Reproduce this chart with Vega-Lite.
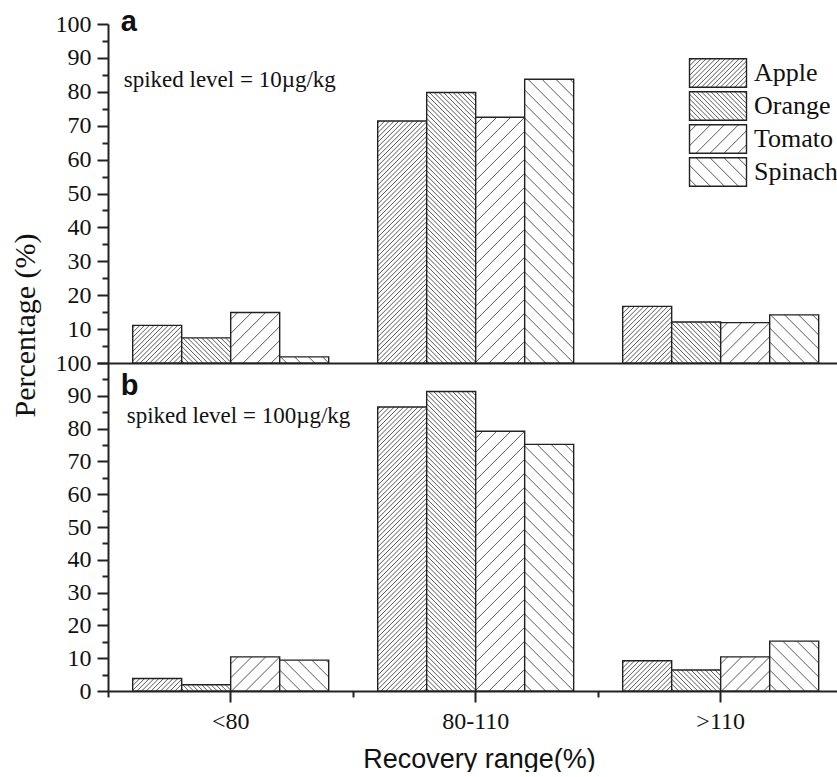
{
  "$schema": "https://vega.github.io/schema/vega-lite/v6.json",
  "padding": {"left": 10, "top": 7, "right": 0, "bottom": 0},
  "spacing": 0,
  "bounds": "flush",
  "config": {
    "view": {"stroke": null},
    "axis": {"domainColor": "#222", "domainWidth": 2, "tickColor": "#222", "tickWidth": 2, "labelFont": "Liberation Serif", "labelFontSize": 24, "labelColor": "#111", "grid": false}
  },
  "params": [
    {"name": "denseStops", "value": [
{"offset":0.00365,"color":"#fff"},{"offset":0.00625,"color":"#555"},{"offset":0.00885,"color":"#fff"},{"offset":0.01615,"color":"#fff"},{"offset":0.01875,"color":"#555"},{"offset":0.02135,"color":"#fff"},{"offset":0.02865,"color":"#fff"},{"offset":0.03125,"color":"#555"},{"offset":0.03385,"color":"#fff"},{"offset":0.04115,"color":"#fff"},{"offset":0.04375,"color":"#555"},{"offset":0.04635,"color":"#fff"},{"offset":0.05365,"color":"#fff"},{"offset":0.05625,"color":"#555"},{"offset":0.05885,"color":"#fff"},{"offset":0.06615,"color":"#fff"},{"offset":0.06875,"color":"#555"},{"offset":0.07135,"color":"#fff"},{"offset":0.07865,"color":"#fff"},{"offset":0.08125,"color":"#555"},{"offset":0.08385,"color":"#fff"},{"offset":0.09115,"color":"#fff"},{"offset":0.09375,"color":"#555"},{"offset":0.09635,"color":"#fff"},
{"offset":0.10365,"color":"#fff"},{"offset":0.10625,"color":"#555"},{"offset":0.10885,"color":"#fff"},{"offset":0.11615,"color":"#fff"},{"offset":0.11875,"color":"#555"},{"offset":0.12135,"color":"#fff"},{"offset":0.12865,"color":"#fff"},{"offset":0.13125,"color":"#555"},{"offset":0.13385,"color":"#fff"},{"offset":0.14115,"color":"#fff"},{"offset":0.14375,"color":"#555"},{"offset":0.14635,"color":"#fff"},{"offset":0.15365,"color":"#fff"},{"offset":0.15625,"color":"#555"},{"offset":0.15885,"color":"#fff"},{"offset":0.16615,"color":"#fff"},{"offset":0.16875,"color":"#555"},{"offset":0.17135,"color":"#fff"},{"offset":0.17865,"color":"#fff"},{"offset":0.18125,"color":"#555"},{"offset":0.18385,"color":"#fff"},{"offset":0.19115,"color":"#fff"},{"offset":0.19375,"color":"#555"},{"offset":0.19635,"color":"#fff"},
{"offset":0.20365,"color":"#fff"},{"offset":0.20625,"color":"#555"},{"offset":0.20885,"color":"#fff"},{"offset":0.21615,"color":"#fff"},{"offset":0.21875,"color":"#555"},{"offset":0.22135,"color":"#fff"},{"offset":0.22865,"color":"#fff"},{"offset":0.23125,"color":"#555"},{"offset":0.23385,"color":"#fff"},{"offset":0.24115,"color":"#fff"},{"offset":0.24375,"color":"#555"},{"offset":0.24635,"color":"#fff"},{"offset":0.25365,"color":"#fff"},{"offset":0.25625,"color":"#555"},{"offset":0.25885,"color":"#fff"},{"offset":0.26615,"color":"#fff"},{"offset":0.26875,"color":"#555"},{"offset":0.27135,"color":"#fff"},{"offset":0.27865,"color":"#fff"},{"offset":0.28125,"color":"#555"},{"offset":0.28385,"color":"#fff"},{"offset":0.29115,"color":"#fff"},{"offset":0.29375,"color":"#555"},{"offset":0.29635,"color":"#fff"},
{"offset":0.30365,"color":"#fff"},{"offset":0.30625,"color":"#555"},{"offset":0.30885,"color":"#fff"},{"offset":0.31615,"color":"#fff"},{"offset":0.31875,"color":"#555"},{"offset":0.32135,"color":"#fff"},{"offset":0.32865,"color":"#fff"},{"offset":0.33125,"color":"#555"},{"offset":0.33385,"color":"#fff"},{"offset":0.34115,"color":"#fff"},{"offset":0.34375,"color":"#555"},{"offset":0.34635,"color":"#fff"},{"offset":0.35365,"color":"#fff"},{"offset":0.35625,"color":"#555"},{"offset":0.35885,"color":"#fff"},{"offset":0.36615,"color":"#fff"},{"offset":0.36875,"color":"#555"},{"offset":0.37135,"color":"#fff"},{"offset":0.37865,"color":"#fff"},{"offset":0.38125,"color":"#555"},{"offset":0.38385,"color":"#fff"},{"offset":0.39115,"color":"#fff"},{"offset":0.39375,"color":"#555"},{"offset":0.39635,"color":"#fff"},
{"offset":0.40365,"color":"#fff"},{"offset":0.40625,"color":"#555"},{"offset":0.40885,"color":"#fff"},{"offset":0.41615,"color":"#fff"},{"offset":0.41875,"color":"#555"},{"offset":0.42135,"color":"#fff"},{"offset":0.42865,"color":"#fff"},{"offset":0.43125,"color":"#555"},{"offset":0.43385,"color":"#fff"},{"offset":0.44115,"color":"#fff"},{"offset":0.44375,"color":"#555"},{"offset":0.44635,"color":"#fff"},{"offset":0.45365,"color":"#fff"},{"offset":0.45625,"color":"#555"},{"offset":0.45885,"color":"#fff"},{"offset":0.46615,"color":"#fff"},{"offset":0.46875,"color":"#555"},{"offset":0.47135,"color":"#fff"},{"offset":0.47865,"color":"#fff"},{"offset":0.48125,"color":"#555"},{"offset":0.48385,"color":"#fff"},{"offset":0.49115,"color":"#fff"},{"offset":0.49375,"color":"#555"},{"offset":0.49635,"color":"#fff"},
{"offset":0.50365,"color":"#fff"},{"offset":0.50625,"color":"#555"},{"offset":0.50885,"color":"#fff"},{"offset":0.51615,"color":"#fff"},{"offset":0.51875,"color":"#555"},{"offset":0.52135,"color":"#fff"},{"offset":0.52865,"color":"#fff"},{"offset":0.53125,"color":"#555"},{"offset":0.53385,"color":"#fff"},{"offset":0.54115,"color":"#fff"},{"offset":0.54375,"color":"#555"},{"offset":0.54635,"color":"#fff"},{"offset":0.55365,"color":"#fff"},{"offset":0.55625,"color":"#555"},{"offset":0.55885,"color":"#fff"},{"offset":0.56615,"color":"#fff"},{"offset":0.56875,"color":"#555"},{"offset":0.57135,"color":"#fff"},{"offset":0.57865,"color":"#fff"},{"offset":0.58125,"color":"#555"},{"offset":0.58385,"color":"#fff"},{"offset":0.59115,"color":"#fff"},{"offset":0.59375,"color":"#555"},{"offset":0.59635,"color":"#fff"},
{"offset":0.60365,"color":"#fff"},{"offset":0.60625,"color":"#555"},{"offset":0.60885,"color":"#fff"},{"offset":0.61615,"color":"#fff"},{"offset":0.61875,"color":"#555"},{"offset":0.62135,"color":"#fff"},{"offset":0.62865,"color":"#fff"},{"offset":0.63125,"color":"#555"},{"offset":0.63385,"color":"#fff"},{"offset":0.64115,"color":"#fff"},{"offset":0.64375,"color":"#555"},{"offset":0.64635,"color":"#fff"},{"offset":0.65365,"color":"#fff"},{"offset":0.65625,"color":"#555"},{"offset":0.65885,"color":"#fff"},{"offset":0.66615,"color":"#fff"},{"offset":0.66875,"color":"#555"},{"offset":0.67135,"color":"#fff"},{"offset":0.67865,"color":"#fff"},{"offset":0.68125,"color":"#555"},{"offset":0.68385,"color":"#fff"},{"offset":0.69115,"color":"#fff"},{"offset":0.69375,"color":"#555"},{"offset":0.69635,"color":"#fff"},
{"offset":0.70365,"color":"#fff"},{"offset":0.70625,"color":"#555"},{"offset":0.70885,"color":"#fff"},{"offset":0.71615,"color":"#fff"},{"offset":0.71875,"color":"#555"},{"offset":0.72135,"color":"#fff"},{"offset":0.72865,"color":"#fff"},{"offset":0.73125,"color":"#555"},{"offset":0.73385,"color":"#fff"},{"offset":0.74115,"color":"#fff"},{"offset":0.74375,"color":"#555"},{"offset":0.74635,"color":"#fff"},{"offset":0.75365,"color":"#fff"},{"offset":0.75625,"color":"#555"},{"offset":0.75885,"color":"#fff"},{"offset":0.76615,"color":"#fff"},{"offset":0.76875,"color":"#555"},{"offset":0.77135,"color":"#fff"},{"offset":0.77865,"color":"#fff"},{"offset":0.78125,"color":"#555"},{"offset":0.78385,"color":"#fff"},{"offset":0.79115,"color":"#fff"},{"offset":0.79375,"color":"#555"},{"offset":0.79635,"color":"#fff"},
{"offset":0.80365,"color":"#fff"},{"offset":0.80625,"color":"#555"},{"offset":0.80885,"color":"#fff"},{"offset":0.81615,"color":"#fff"},{"offset":0.81875,"color":"#555"},{"offset":0.82135,"color":"#fff"},{"offset":0.82865,"color":"#fff"},{"offset":0.83125,"color":"#555"},{"offset":0.83385,"color":"#fff"},{"offset":0.84115,"color":"#fff"},{"offset":0.84375,"color":"#555"},{"offset":0.84635,"color":"#fff"},{"offset":0.85365,"color":"#fff"},{"offset":0.85625,"color":"#555"},{"offset":0.85885,"color":"#fff"},{"offset":0.86615,"color":"#fff"},{"offset":0.86875,"color":"#555"},{"offset":0.87135,"color":"#fff"},{"offset":0.87865,"color":"#fff"},{"offset":0.88125,"color":"#555"},{"offset":0.88385,"color":"#fff"},{"offset":0.89115,"color":"#fff"},{"offset":0.89375,"color":"#555"},{"offset":0.89635,"color":"#fff"},
{"offset":0.90365,"color":"#fff"},{"offset":0.90625,"color":"#555"},{"offset":0.90885,"color":"#fff"},{"offset":0.91615,"color":"#fff"},{"offset":0.91875,"color":"#555"},{"offset":0.92135,"color":"#fff"},{"offset":0.92865,"color":"#fff"},{"offset":0.93125,"color":"#555"},{"offset":0.93385,"color":"#fff"},{"offset":0.94115,"color":"#fff"},{"offset":0.94375,"color":"#555"},{"offset":0.94635,"color":"#fff"},{"offset":0.95365,"color":"#fff"},{"offset":0.95625,"color":"#555"},{"offset":0.95885,"color":"#fff"},{"offset":0.96615,"color":"#fff"},{"offset":0.96875,"color":"#555"},{"offset":0.97135,"color":"#fff"},{"offset":0.97865,"color":"#fff"},{"offset":0.98125,"color":"#555"},{"offset":0.98385,"color":"#fff"},{"offset":0.99115,"color":"#fff"},{"offset":0.99375,"color":"#555"},{"offset":0.99635,"color":"#fff"}
    ]},
    {"name": "sparseStops", "value": [
{"offset":0.0134,"color":"#fff"},{"offset":0.01563,"color":"#555"},{"offset":0.01786,"color":"#fff"},
{"offset":0.04465,"color":"#fff"},{"offset":0.04688,"color":"#555"},{"offset":0.04911,"color":"#fff"},
{"offset":0.0759,"color":"#fff"},{"offset":0.07813,"color":"#555"},{"offset":0.08036,"color":"#fff"},
{"offset":0.10715,"color":"#fff"},{"offset":0.10938,"color":"#555"},{"offset":0.11161,"color":"#fff"},
{"offset":0.1384,"color":"#fff"},{"offset":0.14063,"color":"#555"},{"offset":0.14286,"color":"#fff"},
{"offset":0.16965,"color":"#fff"},{"offset":0.17188,"color":"#555"},{"offset":0.17411,"color":"#fff"},
{"offset":0.2009,"color":"#fff"},{"offset":0.20313,"color":"#555"},{"offset":0.20536,"color":"#fff"},
{"offset":0.23215,"color":"#fff"},{"offset":0.23438,"color":"#555"},{"offset":0.23661,"color":"#fff"},
{"offset":0.2634,"color":"#fff"},{"offset":0.26563,"color":"#555"},{"offset":0.26786,"color":"#fff"},
{"offset":0.29465,"color":"#fff"},{"offset":0.29688,"color":"#555"},{"offset":0.29911,"color":"#fff"},
{"offset":0.3259,"color":"#fff"},{"offset":0.32813,"color":"#555"},{"offset":0.33036,"color":"#fff"},
{"offset":0.35715,"color":"#fff"},{"offset":0.35938,"color":"#555"},{"offset":0.36161,"color":"#fff"},
{"offset":0.3884,"color":"#fff"},{"offset":0.39063,"color":"#555"},{"offset":0.39286,"color":"#fff"},
{"offset":0.41965,"color":"#fff"},{"offset":0.42188,"color":"#555"},{"offset":0.42411,"color":"#fff"},
{"offset":0.4509,"color":"#fff"},{"offset":0.45313,"color":"#555"},{"offset":0.45536,"color":"#fff"},
{"offset":0.48215,"color":"#fff"},{"offset":0.48438,"color":"#555"},{"offset":0.48661,"color":"#fff"},
{"offset":0.5134,"color":"#fff"},{"offset":0.51563,"color":"#555"},{"offset":0.51786,"color":"#fff"},
{"offset":0.54465,"color":"#fff"},{"offset":0.54688,"color":"#555"},{"offset":0.54911,"color":"#fff"},
{"offset":0.5759,"color":"#fff"},{"offset":0.57813,"color":"#555"},{"offset":0.58036,"color":"#fff"},
{"offset":0.60715,"color":"#fff"},{"offset":0.60938,"color":"#555"},{"offset":0.61161,"color":"#fff"},
{"offset":0.6384,"color":"#fff"},{"offset":0.64063,"color":"#555"},{"offset":0.64286,"color":"#fff"},
{"offset":0.66965,"color":"#fff"},{"offset":0.67188,"color":"#555"},{"offset":0.67411,"color":"#fff"},
{"offset":0.7009,"color":"#fff"},{"offset":0.70313,"color":"#555"},{"offset":0.70536,"color":"#fff"},
{"offset":0.73215,"color":"#fff"},{"offset":0.73438,"color":"#555"},{"offset":0.73661,"color":"#fff"},
{"offset":0.7634,"color":"#fff"},{"offset":0.76563,"color":"#555"},{"offset":0.76786,"color":"#fff"},
{"offset":0.79465,"color":"#fff"},{"offset":0.79688,"color":"#555"},{"offset":0.79911,"color":"#fff"},
{"offset":0.8259,"color":"#fff"},{"offset":0.82813,"color":"#555"},{"offset":0.83036,"color":"#fff"},
{"offset":0.85715,"color":"#fff"},{"offset":0.85938,"color":"#555"},{"offset":0.86161,"color":"#fff"},
{"offset":0.8884,"color":"#fff"},{"offset":0.89063,"color":"#555"},{"offset":0.89286,"color":"#fff"},
{"offset":0.91965,"color":"#fff"},{"offset":0.92188,"color":"#555"},{"offset":0.92411,"color":"#fff"},
{"offset":0.9509,"color":"#fff"},{"offset":0.95313,"color":"#555"},{"offset":0.95536,"color":"#fff"},
{"offset":0.98215,"color":"#fff"},{"offset":0.98438,"color":"#555"},{"offset":0.98661,"color":"#fff"}
    ]}
  ],
  "datasets": {
    "top": [
      {"range": "<80", "fruit": "Apple", "value": 11.1},
      {"range": "<80", "fruit": "Orange", "value": 7.4},
      {"range": "<80", "fruit": "Tomato", "value": 14.9},
      {"range": "<80", "fruit": "Spinach", "value": 1.8},
      {"range": "80-110", "fruit": "Apple", "value": 71.4},
      {"range": "80-110", "fruit": "Orange", "value": 79.8},
      {"range": "80-110", "fruit": "Tomato", "value": 72.5},
      {"range": "80-110", "fruit": "Spinach", "value": 83.7},
      {"range": ">110", "fruit": "Apple", "value": 16.7},
      {"range": ">110", "fruit": "Orange", "value": 12.1},
      {"range": ">110", "fruit": "Tomato", "value": 11.9},
      {"range": ">110", "fruit": "Spinach", "value": 14.2}
    ],
    "bottom": [
      {"range": "<80", "fruit": "Apple", "value": 3.8},
      {"range": "<80", "fruit": "Orange", "value": 1.9},
      {"range": "<80", "fruit": "Tomato", "value": 10.4},
      {"range": "<80", "fruit": "Spinach", "value": 9.4},
      {"range": "80-110", "fruit": "Apple", "value": 86.6},
      {"range": "80-110", "fruit": "Orange", "value": 91.3},
      {"range": "80-110", "fruit": "Tomato", "value": 79.2},
      {"range": "80-110", "fruit": "Spinach", "value": 75.2},
      {"range": ">110", "fruit": "Apple", "value": 9.2},
      {"range": ">110", "fruit": "Orange", "value": 6.4},
      {"range": ">110", "fruit": "Tomato", "value": 10.4},
      {"range": ">110", "fruit": "Spinach", "value": 15.2}
    ],
    "notes": [
      {"panel": "a", "note": "spiked level = 10µg/kg", "panel2": "b", "note2": "spiked level = 100µg/kg"}
    ]
  },
  "resolve": {"scale": {"fill": "independent", "xOffset": "independent"}},
  "vconcat": [
    {
      "width": 729,
      "height": 339,
      "layer": [
        {
          "data": {"name": "top"},
          "mark": {"type": "bar", "stroke": "#222", "strokeWidth": 1.4,
            "fill": {"expr": "datum.fruit=='Apple'?{gradient:'linear',x1:0,y1:0,x2:18620/(2401+pow(3.39*datum.value,2)),y2:1288.2*datum.value/(2401+pow(3.39*datum.value,2)),stops:denseStops}:datum.fruit=='Orange'?{gradient:'linear',x1:0,y1:1,x2:18620/(2401+pow(3.39*datum.value,2)),y2:1-1288.2*datum.value/(2401+pow(3.39*datum.value,2)),stops:denseStops}:datum.fruit=='Tomato'?{gradient:'linear',x1:0,y1:0,x2:21952/(2401+pow(3.39*datum.value,2)),y2:1518.72*datum.value/(2401+pow(3.39*datum.value,2)),stops:sparseStops}:{gradient:'linear',x1:0,y1:1,x2:21952/(2401+pow(3.39*datum.value,2)),y2:1-1518.72*datum.value/(2401+pow(3.39*datum.value,2)),stops:sparseStops}"}},
          "encoding": {
            "x": {"field": "range", "type": "nominal", "sort": ["<80", "80-110", ">110"],
              "scale": {"paddingInner": 0.2, "paddingOuter": 0.0878, "align": 0.574},
              "axis": {"ticks": false, "labels": false, "title": null, "domain": true, "orient": "bottom"}},
            "xOffset": {"field": "fruit", "type": "nominal", "sort": ["Apple", "Orange", "Tomato", "Spinach"], "scale": {"paddingInner": 0, "paddingOuter": 0}},
            "y": {"field": "value", "type": "quantitative", "scale": {"domain": [0, 100], "nice": false},
              "axis": {"values": [0, 10, 20, 30, 40, 50, 60, 70, 80, 90, 100], "tickSize": 11, "labelPadding": 6,
                "labelExpr": "datum.value==0?'':datum.label",
                "title": "Percentage (%)", "titleFont": "Liberation Serif", "titleFontSize": 30, "titleFontWeight": "normal", "titleColor": "#111",
                "titleAngle": 270, "titleX": -74, "titleY": 301, "titleAlign": "center", "titleBaseline": "alphabetic", "orient": "left"}}
          }
        },
        {
          "data": {"name": "top"},
          "mark": {"type": "square", "filled": true, "opacity": 0},
          "encoding": {
            "fill": {"field": "fruit", "type": "nominal",
              "scale": {"domain": ["Apple", "Orange", "Tomato", "Spinach"],
                "range": [
                  {"expr": "{gradient:'linear',x1:0,y1:0,x2:5.333,y2:2.667,stops:denseStops}"},
                  {"expr": "{gradient:'linear',x1:0,y1:1,x2:5.333,y2:-1.667,stops:denseStops}"},
                  {"expr": "{gradient:'linear',x1:0,y1:0,x2:6.288,y2:3.144,stops:sparseStops}"},
                  {"expr": "{gradient:'linear',x1:0,y1:1,x2:6.288,y2:-2.144,stops:sparseStops}"}
                ]},
              "legend": {"orient": "none", "legendX": 595, "legendY": 34, "title": null, "padding": 0,
                "symbolType": "M-2,-1H2V1H-2Z", "symbolSize": 812, "symbolStrokeColor": "#222", "symbolStrokeWidth": 1.4, "symbolOpacity": 1,
                "labelFont": "Liberation Serif", "labelFontSize": 26, "labelColor": "#111", "labelOffset": 21, "rowPadding": -6.5, "labelLimit": 300,
                "encode": {"symbols": {"update": {"opacity": {"value": 1}}}}}}
          }
        },
        {
          "data": {"name": "notes"},
          "mark": {"type": "text", "font": "Liberation Serif", "fontSize": 23, "align": "left", "baseline": "alphabetic", "dx": -9, "color": "#111"},
          "encoding": {
            "x": {"datum": "<80", "type": "nominal", "bandPosition": 0, "axis": null},
            "y": {"datum": 81.4, "type": "quantitative",
              "axis": {"values": [5, 15, 25, 35, 45, 55, 65, 75, 85, 95], "tickSize": 6, "labels": false, "domain": false, "title": null, "orient": "left"}},
            "text": {"field": "note"}
          }
        },
        {
          "data": {"name": "notes"},
          "mark": {"type": "text", "font": "Liberation Sans", "fontWeight": "bold", "fontSize": 29, "align": "left", "baseline": "alphabetic", "dx": -12, "color": "#111"},
          "encoding": {
            "x": {"datum": "<80", "type": "nominal", "bandPosition": 0, "axis": null},
            "y": {"datum": 98, "type": "quantitative", "axis": null},
            "text": {"field": "panel"}
          }
        }
      ],
      "resolve": {"axis": {"y": "independent", "x": "independent"}}
    },
    {
      "width": 729,
      "height": 328,
      "layer": [
        {
          "data": {"name": "bottom"},
          "mark": {"type": "bar", "stroke": "#222", "strokeWidth": 1.4,
            "fill": {"expr": "datum.fruit=='Apple'?{gradient:'linear',x1:0,y1:0,x2:18620/(2401+pow(3.28*datum.value,2)),y2:1246.4*datum.value/(2401+pow(3.28*datum.value,2)),stops:denseStops}:datum.fruit=='Orange'?{gradient:'linear',x1:0,y1:1,x2:18620/(2401+pow(3.28*datum.value,2)),y2:1-1246.4*datum.value/(2401+pow(3.28*datum.value,2)),stops:denseStops}:datum.fruit=='Tomato'?{gradient:'linear',x1:0,y1:0,x2:21952/(2401+pow(3.28*datum.value,2)),y2:1469.44*datum.value/(2401+pow(3.28*datum.value,2)),stops:sparseStops}:{gradient:'linear',x1:0,y1:1,x2:21952/(2401+pow(3.28*datum.value,2)),y2:1-1469.44*datum.value/(2401+pow(3.28*datum.value,2)),stops:sparseStops}"}},
          "encoding": {
            "x": {"field": "range", "type": "nominal", "sort": ["<80", "80-110", ">110"],
              "scale": {"paddingInner": 0.2, "paddingOuter": 0.0878, "align": 0.574},
              "axis": {"tickSize": 11, "labelPadding": 26, "labelBaseline": "alphabetic", "labelAngle": 0, "labelFontSize": 24,
                "title": "Recovery range(%)", "titleFont": "Liberation Sans", "titleFontSize": 27, "titleFontWeight": "normal", "titleColor": "#111",
                "titleX": 371, "titleY": 76, "titleAlign": "center", "titleBaseline": "alphabetic", "orient": "bottom"}},
            "xOffset": {"field": "fruit", "type": "nominal", "sort": ["Apple", "Orange", "Tomato", "Spinach"], "scale": {"paddingInner": 0, "paddingOuter": 0}},
            "y": {"field": "value", "type": "quantitative", "scale": {"domain": [0, 100], "nice": false},
              "axis": {"values": [0, 10, 20, 30, 40, 50, 60, 70, 80, 90, 100], "tickSize": 11, "labelPadding": 6, "title": null, "orient": "left"}}
          }
        },
        {
          "data": {"name": "notes"},
          "mark": {"type": "text", "font": "Liberation Serif", "fontSize": 23, "align": "left", "baseline": "alphabetic", "dx": -6, "color": "#111"},
          "encoding": {
            "x": {"datum": "<80", "type": "nominal", "bandPosition": 0,
              "axis": {"bandPosition": -0.125, "tickSize": 6, "labels": false, "domain": false, "title": null, "orient": "bottom"}},
            "y": {"datum": 81.6, "type": "quantitative",
              "axis": {"values": [5, 15, 25, 35, 45, 55, 65, 75, 85, 95], "tickSize": 6, "labels": false, "domain": false, "title": null, "orient": "left"}},
            "text": {"field": "note2"}
          }
        },
        {
          "data": {"name": "notes"},
          "mark": {"type": "text", "font": "Liberation Sans", "fontWeight": "bold", "fontSize": 29, "align": "left", "baseline": "alphabetic", "dx": -12, "color": "#111"},
          "encoding": {
            "x": {"datum": "<80", "type": "nominal", "bandPosition": 0, "axis": null},
            "y": {"datum": 90.2, "type": "quantitative", "axis": null},
            "text": {"field": "panel2"}
          }
        }
      ],
      "resolve": {"axis": {"y": "independent", "x": "independent"}}
    }
  ]
}
